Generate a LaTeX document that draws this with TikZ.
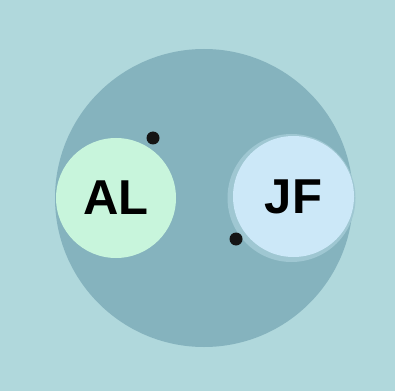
\documentclass[tikz,border=0pt]{standalone}
\usepackage{fontspec}
\setmainfont{Liberation Sans}
\definecolor{bgc}{HTML}{B0D8DC}
\definecolor{bigc}{HTML}{85B3BE}
\definecolor{alc}{HTML}{C8F5DC}
\definecolor{jfc}{HTML}{CCE8F8}
\definecolor{ringc}{HTML}{9FC7D2}
\definecolor{dotc}{HTML}{151515}
\begin{document}
\begin{tikzpicture}[x=1pt,y=1pt,
  disc/.style={circle,inner sep=0pt,draw=none},
  person/.style={disc,font=\fontsize{49}{49}\selectfont\bfseries,text=black},
  pin/.style={disc,fill=dotc,minimum size=13pt}]
\fill[bgc] (0,0) rectangle (395,391);
\useasboundingbox (0,0) rectangle (395,391);
\node[disc,fill=bigc,minimum size=298pt] (big) at (204,193) {};
\node[disc,fill=ringc,minimum size=128pt] (ring) at (291.5,193) {};
\node[person,fill=alc,minimum size=120pt] (al) at (116,193) {AL};
\node[person,fill=jfc,minimum size=121pt] (jf) at (293.5,194.5) {JF};
\node[pin] (d1) at (153,253) {};
\node[pin] (d2) at (236,152) {};
\end{tikzpicture}
\end{document}
